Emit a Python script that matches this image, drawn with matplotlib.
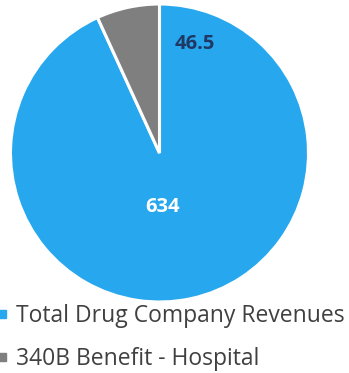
import matplotlib.pyplot as plt
from matplotlib.lines import Line2D

labels = ["Total Drug Company Revenues", "340B Benefit - Hospital"]
values = [634, 46.5]
colors = ["#27A8EE", "#7F7F7F"]
label_colors = ["white", "#1F3864"]
label_pos = [(0.02, -0.36), (0.24, 0.73)]

W, H = 349, 373
fig = plt.figure(figsize=(W / 100, H / 100), dpi=100)
cx, cy, r = 159.5, 153, 149
ax = fig.add_axes([(cx - r) / W, (H - cy - r) / H, 2 * r / W, 2 * r / H])

ax.pie(values, colors=colors, startangle=90, counterclock=False,
       wedgeprops=dict(edgecolor="white", linewidth=2.2))
ax.set_xlim(-1, 1)
ax.set_ylim(-1, 1)
ax.set_aspect("equal")
ax.axis("off")

for v, c, (x, y) in zip(values, label_colors, label_pos):
    ax.text(x, y, f"{v:g}", color=c, ha="center", va="center",
            fontsize=14.5, fontweight="bold", family="Open Sans")

handles = [Line2D([], [], marker="s", linestyle="none", markersize=5.5,
                  markerfacecolor=c, markeredgecolor=c) for c in colors]
fig.legend(handles, labels, loc="upper left", bbox_to_anchor=(-0.01, 1 - 304 / H),
           frameon=False, handlelength=0.5, handletextpad=0.35,
           labelspacing=0.85, borderaxespad=0, borderpad=0,
           prop=dict(family="Open Sans", size=16.5), labelcolor="#404040")

fig.savefig("out.png", dpi=100)
